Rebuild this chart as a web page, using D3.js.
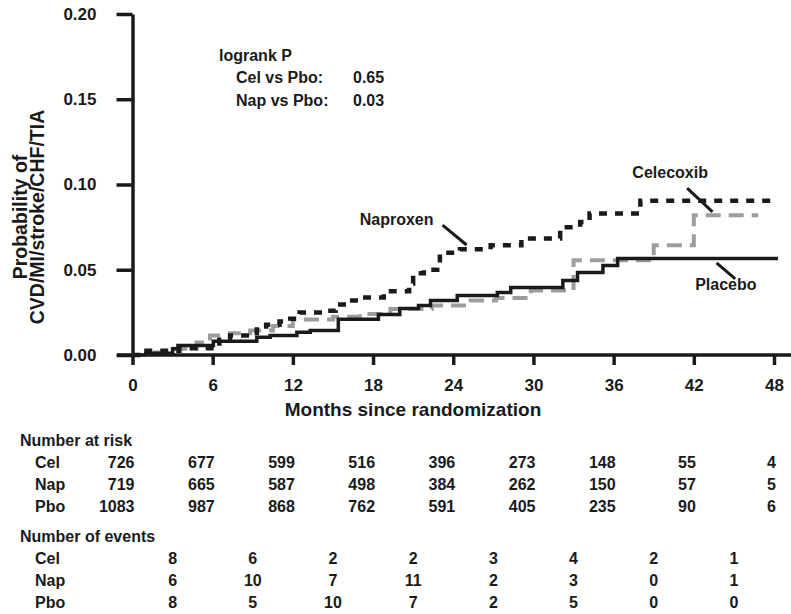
<!DOCTYPE html>
<html>
<head>
<meta charset="utf-8">
<script src="https://cdn.jsdelivr.net/npm/d3@7"></script>
<style>
  body { margin: 0; background: #fff; }
  svg text { font-family: "Liberation Sans", Arial, sans-serif; font-weight: bold; fill: #1a1a1a; }
</style>
</head>
<body>
<div id="chart"></div>
<script>
// ===== Data =====
const monthTicks = [0, 6, 12, 18, 24, 30, 36, 42, 48];
const probTicks = [0, 0.05, 0.10, 0.15, 0.20];

// Kaplan-Meier steps: [month, cumulative probability]
const celSteps = [[0, 0], [1.0, 0.0015], [2.9, 0.0037], [4.8, 0.0074], [5.8, 0.0114], [7.3, 0.0127],
    [8.8, 0.0143], [10.5, 0.017], [12.0, 0.0208], [15.0, 0.0225], [17.0, 0.0241], [19.3, 0.027],
    [22.4, 0.029], [25.3, 0.032], [27.2, 0.0334], [29.8, 0.0378], [33.0, 0.0555], [39.0, 0.0643],
    [42.0, 0.082], [46.8, 0.082]];
const napSteps = [[0, 0], [0.8, 0.0025], [3.5, 0.004], [6.5, 0.009], [7.3, 0.0114], [9.3, 0.0149],
    [10.0, 0.0178], [11.0, 0.0196], [11.8, 0.0213], [12.5, 0.0249], [14.5, 0.026], [15.2, 0.0296],
    [16.0, 0.032], [17.0, 0.0337], [18.8, 0.0374], [20.7, 0.0419], [21.0, 0.048], [21.8, 0.050],
    [22.8, 0.0525], [23.0, 0.060], [24.5, 0.062], [26.8, 0.0643], [29.1, 0.0684], [32.0, 0.075],
    [33.5, 0.078], [34.2, 0.083], [38.0, 0.0905], [48.0, 0.0905]];
const pboSteps = [[0, 0], [1.0, 0.001], [3.0, 0.0037], [3.4, 0.0055], [6.05, 0.008], [9.3, 0.0104],
    [10.3, 0.0114], [12.3, 0.0133], [13.3, 0.0143], [15.4, 0.021], [18.4, 0.0237], [20.0, 0.0272],
    [21.4, 0.029], [22.3, 0.0319], [24.3, 0.0349], [27.3, 0.0366], [28.3, 0.0396], [32.2, 0.0437],
    [33.3, 0.0484], [35.2, 0.0525], [36.3, 0.0566], [48.3, 0.0566]];

// Number at risk (at each month tick) and number of events (per 6-month interval)
const groupNames = ["Cel", "Nap", "Pbo"];
const celAtRisk = [726, 677, 599, 516, 396, 273, 148, 55, 4];
const napAtRisk = [719, 665, 587, 498, 384, 262, 150, 57, 5];
const pboAtRisk = [1083, 987, 868, 762, 591, 405, 235, 90, 6];
const celEvents = [8, 6, 2, 2, 3, 4, 2, 1];
const napEvents = [6, 10, 7, 11, 2, 3, 0, 1];
const pboEvents = [8, 5, 10, 7, 2, 5, 0, 0];

const logrankRows = [["Cel vs Pbo:", "0.65"], ["Nap vs Pbo:", "0.03"]];

// ===== Drawing =====
const width = 791;
const height = 614;

const svg = d3.select("#chart")
    .append("svg")
    .attr("width", width)
    .attr("height", height);

const x = d3.scaleLinear().domain([0, 48]).range([132.5, 774]);
const y = d3.scaleLinear().domain([0, 0.2]).range([355, 14]);

// Axes - thick black lines, ticks outside
const xAxis = svg.append("g")
    .attr("transform", `translate(0, ${y(0)})`)
    .call(d3.axisBottom(x).tickValues(monthTicks).tickSize(10).tickSizeOuter(0).tickPadding(10));
xAxis.select(".domain").attr("d", `M117,0H791`);

const yAxis = svg.append("g")
    .attr("transform", `translate(${x(0)}, 0)`)
    .call(d3.axisLeft(y).tickValues(probTicks).tickFormat(d3.format(".2f")).tickSize(16).tickSizeOuter(0).tickPadding(20));

svg.selectAll(".domain, .tick line")
    .attr("stroke", "#1a1a1a")
    .attr("stroke-width", 3.5);
xAxis.selectAll(".tick text").style("font-size", "17px").attr("dy", "0.95em");
yAxis.selectAll(".tick text").style("font-size", "17px");

// Axis titles
svg.append("text")
    .attr("x", 413)
    .attr("y", 416)
    .attr("text-anchor", "middle")
    .style("font-size", "19px")
    .text("Months since randomization");

const yTitle = svg.append("text")
    .attr("transform", "translate(27, 217) rotate(-90)")
    .attr("text-anchor", "middle")
    .style("font-size", "19.5px");
yTitle.append("tspan").attr("x", 0).attr("y", 0).text("Probability of");
yTitle.append("tspan").attr("x", 0).attr("y", 17).text("CVD/MI/stroke/CHF/TIA");

// Step curves
const stepLine = d3.line()
    .x(d => x(d[0]))
    .y(d => y(d[1]))
    .curve(d3.curveStepAfter);

svg.append("path")
    .datum(celSteps)
    .attr("d", stepLine)
    .attr("fill", "none")
    .attr("stroke", "#9d9d9d")
    .attr("stroke-width", 4)
    .attr("stroke-dasharray", "15,8");

svg.append("path")
    .datum(pboSteps)
    .attr("d", stepLine)
    .attr("fill", "none")
    .attr("stroke", "#1a1a1a")
    .attr("stroke-width", 3.5);

svg.append("path")
    .datum(napSteps)
    .attr("d", stepLine)
    .attr("fill", "none")
    .attr("stroke", "#1a1a1a")
    .attr("stroke-width", 4.5)
    .attr("stroke-dasharray", "8,8");

// Curve labels with leader lines (positions in data units)
const curveLabels = [
    { text: "Naproxen", at: [17.0, 0.0762], from: [23.2, 0.0762], to: [25.0, 0.0645] },
    { text: "Celecoxib", at: [37.4, 0.1038], from: [41.5, 0.0979], to: [43.4, 0.0839] },
    { text: "Placebo", at: [42.1, 0.0381], from: [43.7, 0.054], to: [45.1, 0.0446] }
];
curveLabels.forEach(l => {
    svg.append("text")
        .attr("x", x(l.at[0]))
        .attr("y", y(l.at[1]))
        .style("font-size", "16px")
        .text(l.text);
    svg.append("line")
        .attr("x1", x(l.from[0])).attr("y1", y(l.from[1]))
        .attr("x2", x(l.to[0])).attr("y2", y(l.to[1]))
        .attr("stroke", "#1a1a1a")
        .attr("stroke-width", 3);
});

// Logrank annotation
svg.append("text").attr("x", 219).attr("y", 61).style("font-size", "16px").text("logrank P");
logrankRows.forEach((r, i) => {
    svg.append("text").attr("x", 236).attr("y", 83 + i * 23).style("font-size", "16px").text(r[0]);
    svg.append("text").attr("x", 353).attr("y", 83 + i * 23).style("font-size", "16px").text(r[1]);
});

// Table below the chart
const table = svg.append("g").style("font-size", "16px");
const rowGap = 22;
const atRisk = [celAtRisk, napAtRisk, pboAtRisk];
const events = [celEvents, napEvents, pboEvents];
const midMonths = monthTicks.slice(0, -1).map(m => m + 3);

table.append("text").attr("x", 20).attr("y", 446).text("Number at risk");
atRisk.forEach((row, i) => {
    const rowY = 468 + i * rowGap;
    table.append("text").attr("x", 35).attr("y", rowY).text(groupNames[i]);
    table.selectAll(null)
        .data(row)
        .join("text")
        .attr("x", (d, j) => x(monthTicks[j]) + 2)
        .attr("y", rowY)
        .attr("text-anchor", "end")
        .text(d => d);
});

table.append("text").attr("x", 20).attr("y", 542).text("Number of events");
events.forEach((row, i) => {
    const rowY = 564 + i * rowGap;
    table.append("text").attr("x", 35).attr("y", rowY).text(groupNames[i]);
    table.selectAll(null)
        .data(row)
        .join("text")
        .attr("x", (d, j) => x(midMonths[j]))
        .attr("y", rowY)
        .attr("text-anchor", "middle")
        .text(d => d);
});
</script>
</body>
</html>
